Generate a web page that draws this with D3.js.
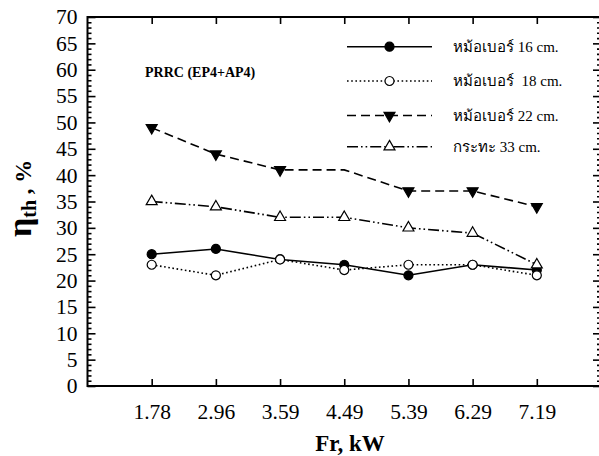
<!DOCTYPE html>
<html>
<head>
<meta charset="utf-8">
<script src="https://cdn.jsdelivr.net/npm/d3@7"></script>
<style>
  html, body { margin: 0; padding: 0; background: #fff; }
  svg { display: block; }
  text { font-family: "Liberation Serif", "DejaVu Serif", serif; fill: #000; }
</style>
</head>
<body>
<svg id="chart" width="599" height="456"></svg>
<script>
// Heat input rate (kW) categories
const categories = ["1.78", "2.96", "3.59", "4.49", "5.39", "6.29", "7.19"];

// Thermal efficiency (%) per vessel
const pot16 = [25, 26, 24, 23, 21, 23, 22];
const pot18 = [23, 21, 24, 22, 23, 23, 21];
const pot22 = [49, 44, 41, 41, 37, 37, 34];
const wok33 = [35, 34, 32, 32, 30, 29, 23];

const seriesNames = ["หม้อเบอร์ 16 cm.", "หม้อเบอร์  18 cm.", "หม้อเบอร์ 22 cm.", "กระทะ 33 cm."];

const yMajorTicks = d3.range(0, 71, 5);
const yMinorTicks = d3.range(0, 71, 1).filter(v => v % 5 !== 0);

const series = [
  { name: seriesNames[0], values: pot16, dash: null,               symbol: d3.symbolCircle,   fill: "#000", rotate: 0,   size: 64 },
  { name: seriesNames[1], values: pot18, dash: "1.6,2.6",          symbol: d3.symbolCircle,   fill: "#fff", rotate: 0,   size: 64 },
  { name: seriesNames[2], values: pot22, dash: "9,5",              symbol: d3.symbolTriangle, fill: "#000", rotate: 180, size: 52, skip: [3] },
  { name: seriesNames[3], values: wok33, dash: "11,3,1.6,3,1.6,3", symbol: d3.symbolTriangle, fill: "#fff", rotate: 0,   size: 52 }
];

const svg = d3.select("#chart");
const plot = { left: 87.5, right: 601, top: 17, bottom: 386 };

const x = d3.scalePoint().domain(categories).range([plot.left, plot.right]).padding(1);
const y = d3.scaleLinear().domain([0, 70]).range([plot.bottom, plot.top]);

// Axes with inward ticks on all four sides
const gAxes = svg.append("g");

gAxes.append("g")
  .attr("transform", `translate(${plot.left},0)`)
  .call(d3.axisLeft(y).tickValues(yMinorTicks).tickSize(-4).tickSizeOuter(0).tickFormat(""));
gAxes.append("g")
  .attr("transform", `translate(${plot.left},0)`)
  .call(d3.axisLeft(y).tickValues(yMajorTicks).tickSize(-8).tickSizeOuter(0).tickPadding(10).tickFormat(d3.format("d")));
gAxes.append("g")
  .attr("transform", `translate(${plot.right},0)`)
  .call(d3.axisRight(y).tickValues(yMinorTicks).tickSize(-4).tickSizeOuter(0).tickFormat(""));
gAxes.append("g")
  .attr("transform", `translate(${plot.right},0)`)
  .call(d3.axisRight(y).tickValues(yMajorTicks).tickSize(-8).tickSizeOuter(0).tickFormat(""));
gAxes.append("g")
  .attr("transform", `translate(0,${plot.bottom})`)
  .call(d3.axisBottom(x).tickSize(-7).tickSizeOuter(0).tickPadding(18));
gAxes.append("g")
  .attr("transform", `translate(0,${plot.top})`)
  .call(d3.axisTop(x).tickSize(-7).tickSizeOuter(0).tickFormat(""));

gAxes.selectAll(".domain").remove();
gAxes.selectAll(".tick line").attr("stroke", "#000").attr("stroke-width", 1.6);
gAxes.selectAll(".tick text").attr("font-family", "Liberation Serif, serif").attr("font-size", 21.5).attr("fill", "#000");

// Plot frame
svg.append("rect")
  .attr("x", plot.left).attr("y", plot.top)
  .attr("width", plot.right - plot.left).attr("height", plot.bottom - plot.top)
  .attr("fill", "none").attr("stroke", "#000").attr("stroke-width", 2);

// Series lines and markers
const line = d3.line().x((d, i) => x(categories[i])).y(d => y(d));
const gSeries = svg.append("g");

series.forEach(s => {
  gSeries.append("path")
    .datum(s.values)
    .attr("d", line)
    .attr("fill", "none")
    .attr("stroke", "#000")
    .attr("stroke-width", 1.6)
    .attr("stroke-dasharray", s.dash);
});

series.forEach(s => {
  const sym = d3.symbol().type(s.symbol).size(s.size);
  gSeries.append("g").selectAll("path")
    .data(s.values.map((v, i) => ({ v, i })).filter(d => !(s.skip || []).includes(d.i)))
    .join("path")
    .attr("d", sym)
    .attr("transform", d => `translate(${x(categories[d.i])},${y(d.v)}) rotate(${s.rotate})`)
    .attr("fill", s.fill)
    .attr("stroke", "#000")
    .attr("stroke-width", 1.2);
});

// Legend
const legendRows = [46.7, 81, 115.5, 146.7];
const gLegend = svg.append("g");
series.forEach((s, k) => {
  const ly = legendRows[k];
  gLegend.append("line")
    .attr("x1", 347).attr("x2", 432).attr("y1", ly).attr("y2", ly)
    .attr("stroke", "#000").attr("stroke-width", 1.6)
    .attr("stroke-dasharray", s.dash);
  gLegend.append("path")
    .attr("d", d3.symbol().type(s.symbol).size(s.size)())
    .attr("transform", `translate(389.5,${ly}) rotate(${s.rotate})`)
    .attr("fill", s.fill).attr("stroke", "#000").attr("stroke-width", 1.2);
  gLegend.append("text")
    .attr("x", 453).attr("y", ly + 5)
    .attr("font-size", 15)
    .attr("xml:space", "preserve")
    .style("white-space", "pre")
    .text(s.name);
});

// Annotation
svg.append("text")
  .attr("x", 145).attr("y", 77)
  .attr("font-size", 14).attr("font-weight", "bold")
  .text("PRRC (EP4+AP4)");

// Axis titles
svg.append("text")
  .attr("x", 350).attr("y", 451)
  .attr("text-anchor", "middle")
  .attr("font-size", 23).attr("font-weight", "bold")
  .text("Fr, kW");

const yTitle = svg.append("text")
  .attr("transform", "translate(31,237) rotate(-90)")
  .attr("font-weight", "bold");
yTitle.append("tspan").attr("font-size", 34).text("η");
yTitle.append("tspan").attr("font-size", 20).attr("dy", 5).text("th");
yTitle.append("tspan").attr("font-size", 23).attr("dy", -5).attr("xml:space", "preserve").style("white-space", "pre").text(" , %");
</script>
</body>
</html>
